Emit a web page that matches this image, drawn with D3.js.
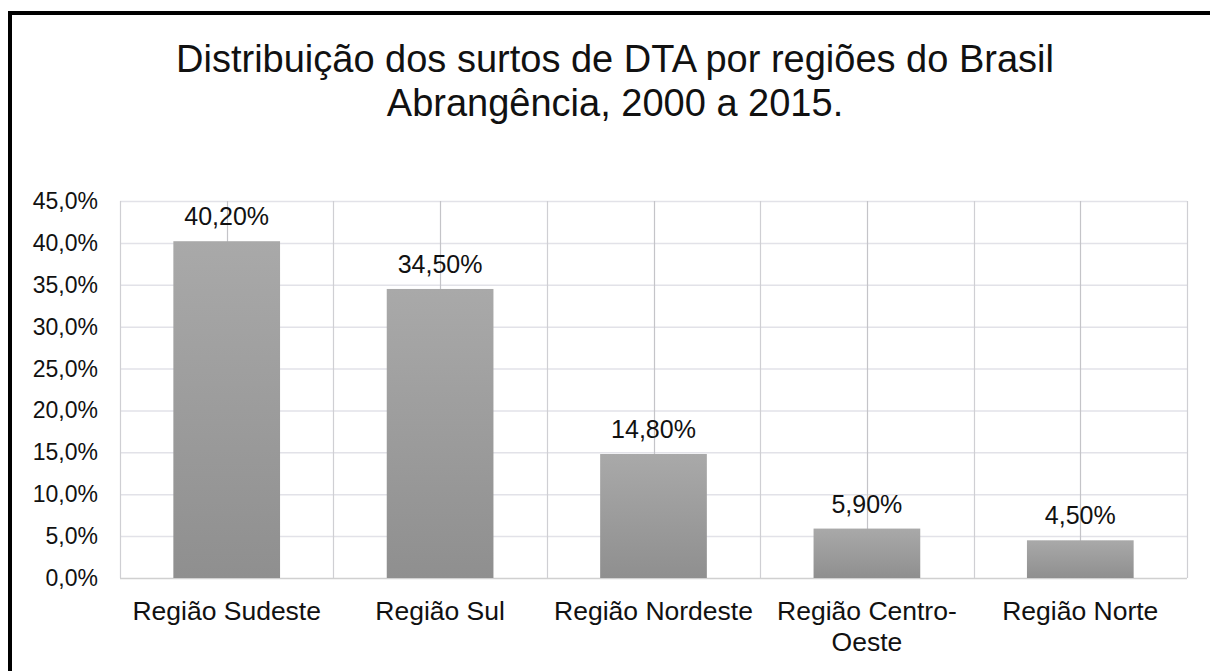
<!DOCTYPE html>
<html>
<head>
<meta charset="utf-8">
<script src="https://cdn.jsdelivr.net/npm/d3@7"></script>
<style>
  body { margin: 0; background: #fff; }
  text { font-family: "Liberation Sans", Arial, sans-serif; fill: #111; }
</style>
</head>
<body>
<svg id="chart" width="1210" height="671"></svg>
<script>
// dados do gráfico
const regioes = ['Região Sudeste', 'Região Sul', 'Região Nordeste', 'Região Centro-Oeste', 'Região Norte'];
const percentuais = [40.2, 34.5, 14.8, 5.9, 4.5];
const rotulos = ['40,20%', '34,50%', '14,80%', '5,90%', '4,50%'];
const ticksY = [0, 5, 10, 15, 20, 25, 30, 35, 40, 45];
const titulo = ['Distribuição dos surtos de DTA por regiões do Brasil', 'Abrangência, 2000 a 2015.'];

const svg = d3.select('#chart');
const width = 1210, height = 671;

// moldura preta
svg.append('rect')
  .attr('x', 10).attr('y', 13)
  .attr('width', 1300).attr('height', 800)
  .attr('fill', 'none')
  .attr('stroke', '#000')
  .attr('stroke-width', 4);

const margin = {top: 201, right: 23, bottom: 93, left: 120};
const x = d3.scaleBand().domain(regioes).range([margin.left, width - margin.right]).paddingInner(0).paddingOuter(0);
const y = d3.scaleLinear().domain([0, 45]).range([height - margin.bottom, margin.top]);

// gradiente das barras
const defs = svg.append('defs');
const grad = defs.append('linearGradient').attr('id', 'gbar').attr('x1', 0).attr('y1', 0).attr('x2', 0).attr('y2', 1);
grad.append('stop').attr('offset', '0%').attr('stop-color', '#a9a9a9');
grad.append('stop').attr('offset', '100%').attr('stop-color', '#8f8f8f');

// linhas de grade horizontais
svg.append('g')
  .selectAll('line')
  .data(ticksY)
  .join('line')
  .attr('x1', margin.left).attr('x2', width - margin.right)
  .attr('y1', d => y(d) + 0.5).attr('y2', d => y(d) + 0.5)
  .attr('stroke', d => d === 0 ? '#d0d0d0' : '#e2e2e8')
  .attr('stroke-width', 1.5);

// linhas verticais: limites das categorias e centros
const limites = regioes.map(r => x(r)).concat([x.range()[1]]);
svg.append('g')
  .selectAll('line')
  .data(limites)
  .join('line')
  .attr('x1', d => Math.round(d) + 0.5).attr('x2', d => Math.round(d) + 0.5)
  .attr('y1', y(45)).attr('y2', y(0))
  .attr('stroke', '#cfcfd3').attr('stroke-width', 1.2);

svg.append('g')
  .selectAll('line')
  .data(regioes)
  .join('line')
  .attr('x1', d => Math.round(x(d) + x.bandwidth() / 2) + 0.5)
  .attr('x2', d => Math.round(x(d) + x.bandwidth() / 2) + 0.5)
  .attr('y1', y(45)).attr('y2', y(0))
  .attr('stroke', '#c4c4c8').attr('stroke-width', 1.2);

// barras
const bw = x.bandwidth() * 0.5;
svg.append('g')
  .selectAll('rect')
  .data(regioes)
  .join('rect')
  .attr('x', d => x(d) + (x.bandwidth() - bw) / 2)
  .attr('width', bw)
  .attr('y', (d, i) => y(percentuais[i]))
  .attr('height', (d, i) => y(0) - y(percentuais[i]))
  .attr('fill', 'url(#gbar)');

// rótulos de dados
svg.append('g')
  .selectAll('text')
  .data(regioes)
  .join('text')
  .attr('x', d => x(d) + x.bandwidth() / 2)
  .attr('y', (d, i) => y(percentuais[i]) - 16)
  .attr('text-anchor', 'middle')
  .attr('font-size', 25)
  .text((d, i) => rotulos[i]);

// eixo Y
const fmt = d => d.toFixed(1).replace('.', ',') + '%';
svg.append('g')
  .selectAll('text')
  .data(ticksY)
  .join('text')
  .attr('x', 98)
  .attr('y', d => y(d))
  .attr('dy', '0.35em')
  .attr('text-anchor', 'end')
  .attr('font-size', 23)
  .text(fmt);

// rótulos das categorias (com quebra para Centro-Oeste)
const linhas = {'Região Centro-Oeste': ['Região Centro-', 'Oeste']};
const cat = svg.append('g')
  .selectAll('text')
  .data(regioes)
  .join('text')
  .attr('x', d => x(d) + x.bandwidth() / 2)
  .attr('y', 620)
  .attr('text-anchor', 'middle')
  .attr('font-size', 26.5);
cat.each(function (d) {
  const t = d3.select(this);
  const ls = linhas[d] || [d];
  ls.forEach((l, i) => {
    t.append('tspan')
      .attr('x', x(d) + x.bandwidth() / 2)
      .attr('dy', i === 0 ? 0 : 31)
      .text(l);
  });
});

// título
svg.append('g')
  .selectAll('text')
  .data(titulo)
  .join('text')
  .attr('x', 615)
  .attr('y', (d, i) => 72 + i * 44)
  .attr('text-anchor', 'middle')
  .attr('font-size', 38)
  .text(d => d);
</script>
</body>
</html>
